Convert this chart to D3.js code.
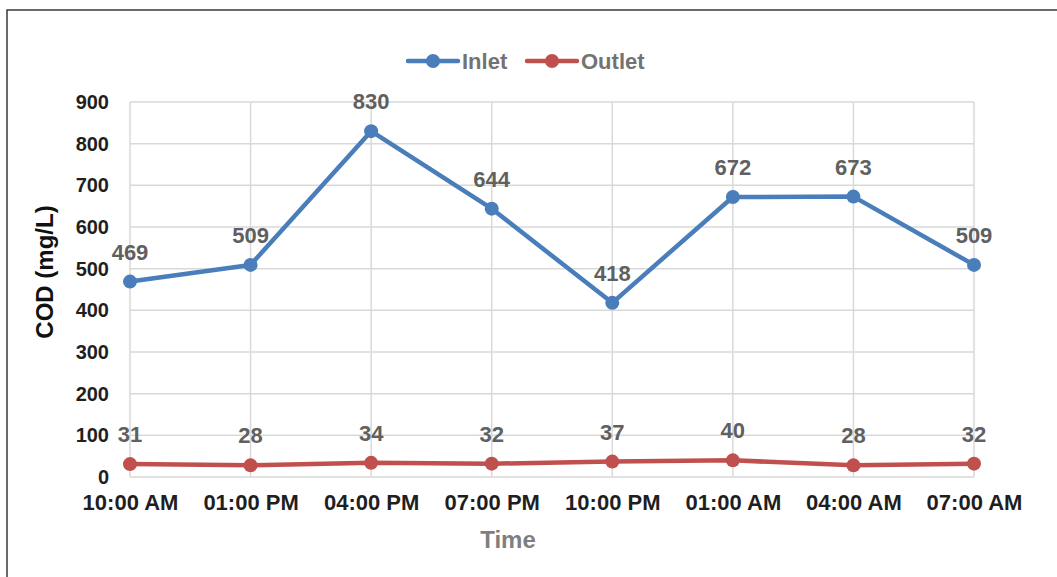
<!DOCTYPE html>
<html>
<head>
<meta charset="utf-8">
<script src="https://cdn.jsdelivr.net/npm/d3@7"></script>
<style>
  html, body { margin: 0; padding: 0; background: #fff; }
  svg { display: block; font-family: Arial, "Liberation Sans", sans-serif; }
</style>
</head>
<body>
<svg id="chart" width="1057" height="577"></svg>
<script>
// COD readings over one sampling day
const times = ["10:00 AM", "01:00 PM", "04:00 PM", "07:00 PM", "10:00 PM", "01:00 AM", "04:00 AM", "07:00 AM"];
const inlet = [469, 509, 830, 644, 418, 672, 673, 509];
const outlet = [31, 28, 34, 32, 37, 40, 28, 32];
const yTicks = [0, 100, 200, 300, 400, 500, 600, 700, 800, 900];
const seriesNames = ["Inlet", "Outlet"];
const seriesColors = ["#4a7ebb", "#c0504d"];

const svg = d3.select("#chart");

// outer frame
svg.append("rect")
  .attr("x", 7).attr("y", 10)
  .attr("width", 1070).attr("height", 600)
  .attr("fill", "none").attr("stroke", "#3a3a3a").attr("stroke-width", 1.5);

const plotLeft = 130, plotRight = 974, plotTop = 102, plotBottom = 477;

const x = d3.scalePoint().domain(times).range([plotLeft, plotRight]);
const y = d3.scaleLinear().domain([0, 900]).range([plotBottom, plotTop]);

const gridColor = "#d9d9d9";

// horizontal gridlines
svg.append("g")
  .selectAll("line")
  .data(yTicks)
  .join("line")
  .attr("x1", plotLeft).attr("x2", plotRight)
  .attr("y1", d => y(d)).attr("y2", d => y(d))
  .attr("stroke", gridColor).attr("stroke-width", 1.5);

// vertical gridlines
svg.append("g")
  .selectAll("line")
  .data(times)
  .join("line")
  .attr("x1", d => x(d)).attr("x2", d => x(d))
  .attr("y1", plotTop).attr("y2", plotBottom)
  .attr("stroke", gridColor).attr("stroke-width", 1.5);

// y axis labels
const yAxis = svg.append("g")
  .attr("transform", `translate(${plotLeft},0)`)
  .call(d3.axisLeft(y).tickValues(yTicks).tickSize(0).tickPadding(21));
yAxis.select(".domain").remove();
yAxis.selectAll("text")
  .attr("font-size", 20).attr("font-weight", "bold").attr("fill", "#1f1f1f")
  .attr("font-family", "Arial, 'Liberation Sans', sans-serif");

// x axis labels
const xAxis = svg.append("g")
  .attr("transform", `translate(0,${plotBottom})`)
  .call(d3.axisBottom(x).tickSize(0).tickPadding(17));
xAxis.select(".domain").remove();
xAxis.selectAll("text")
  .attr("font-size", 22).attr("font-weight", "bold").attr("fill", "#1f1f1f")
  .attr("font-family", "Arial, 'Liberation Sans', sans-serif");

// axis titles
svg.append("text")
  .attr("x", 508).attr("y", 548)
  .attr("text-anchor", "middle")
  .attr("font-size", 24).attr("font-weight", "bold").attr("fill", "#7f7f7f")
  .text("Time");

svg.append("text")
  .attr("transform", "translate(53,272) rotate(-90)")
  .attr("text-anchor", "middle")
  .attr("font-size", 24).attr("font-weight", "bold").attr("fill", "#111")
  .text("COD (mg/L)");

// series
const series = [inlet, outlet];
const line = d3.line().x((d, i) => x(times[i])).y(d => y(d));

series.forEach((vals, si) => {
  const g = svg.append("g");
  g.append("path")
    .datum(vals)
    .attr("d", line)
    .attr("fill", "none")
    .attr("stroke", seriesColors[si])
    .attr("stroke-width", 4.5)
    .attr("stroke-linejoin", "round");
  g.selectAll("circle")
    .data(vals)
    .join("circle")
    .attr("cx", (d, i) => x(times[i]))
    .attr("cy", d => y(d))
    .attr("r", 7)
    .attr("fill", seriesColors[si]);
  g.selectAll("text")
    .data(vals)
    .join("text")
    .attr("x", (d, i) => x(times[i]))
    .attr("y", d => y(d) - 22)
    .attr("text-anchor", "middle")
    .attr("font-size", 22).attr("font-weight", "bold").attr("fill", "#606060")
    .text(d => d);
});

// legend
const legendX = [408, 527];
const legend = svg.append("g");
seriesNames.forEach((name, i) => {
  const lx = legendX[i];
  legend.append("line")
    .attr("x1", lx).attr("x2", lx + 50)
    .attr("y1", 61).attr("y2", 61)
    .attr("stroke", seriesColors[i]).attr("stroke-width", 4.5)
    .attr("stroke-linecap", "round");
  legend.append("circle")
    .attr("cx", lx + 25).attr("cy", 61).attr("r", 7)
    .attr("fill", seriesColors[i]);
  legend.append("text")
    .attr("x", lx + 54).attr("y", 69)
    .attr("font-size", 22).attr("font-weight", "bold").attr("fill", "#737373")
    .text(name);
});
</script>
</body>
</html>
